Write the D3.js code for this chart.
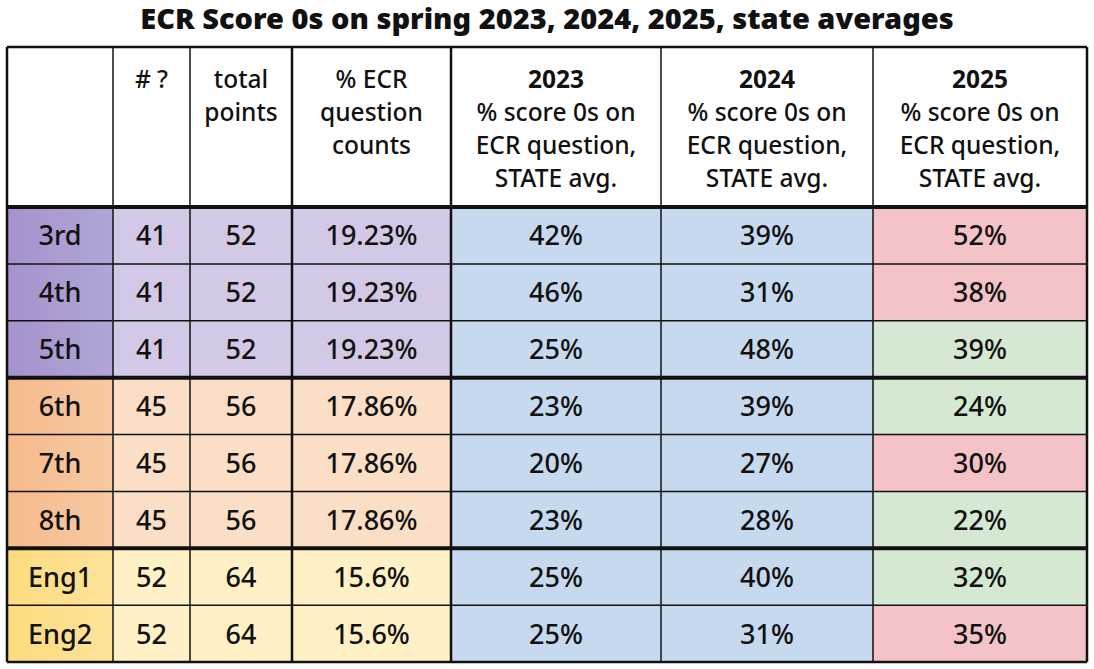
<!DOCTYPE html>
<html>
<head>
<meta charset="utf-8">
<script src="https://cdn.jsdelivr.net/npm/d3@7"></script>
<style>
  body { margin: 0; background: #fff; }
  text { font-family: "Noto Sans", Lato, sans-serif; fill: #111; }
</style>
</head>
<body>
<svg id="chart" width="1094" height="669"></svg>
<script>
var grades = ["3rd", "4th", "5th", "6th", "7th", "8th", "Eng1", "Eng2"];
var numQ = [41, 41, 41, 45, 45, 45, 52, 52];
var totalPoints = [52, 52, 52, 56, 56, 56, 64, 64];
var ecrPct = ["19.23%", "19.23%", "19.23%", "17.86%", "17.86%", "17.86%", "15.6%", "15.6%"];
var zeros2023 = [42, 46, 25, 23, 20, 23, 25, 25];
var zeros2024 = [39, 31, 48, 39, 27, 28, 40, 31];
var zeros2025 = [52, 38, 39, 24, 30, 22, 32, 35];
var groups = ["elem", "elem", "elem", "mid", "mid", "mid", "eng", "eng"];
var headers = [[""], ["# ?"], ["total", "points"], ["% ECR", "question", "counts"],
  ["2023", "% score 0s on", "ECR question,", "STATE avg."],
  ["2024", "% score 0s on", "ECR question,", "STATE avg."],
  ["2025", "% score 0s on", "ECR question,", "STATE avg."]];

var colEdges = [7, 113, 190, 292, 451, 661, 873, 1087];
var headTop = 47, headBottom = 207, tableBottom = 662;

var svg = d3.select("#chart");
var y = d3.scaleBand().domain(d3.range(grades.length)).range([headBottom, tableBottom]);

var darkCol = { elem: "#a493cd", mid: "#f5bb8c", eng: "#fddb7e" };
var darkCol2 = { elem: "#b3a5d6", mid: "#f7c9a2", eng: "#fee39a" };
var lightCol = { elem: "#d3c8e5", mid: "#fadec6", eng: "#fff0c6" };

// gradients for first column
var defs = svg.append("defs");
Object.keys(darkCol).forEach(function (g) {
  var lg = defs.append("linearGradient").attr("id", "grad_" + g).attr("x1", 0).attr("x2", 1);
  lg.append("stop").attr("offset", "0%").attr("stop-color", darkCol[g]);
  lg.append("stop").attr("offset", "100%").attr("stop-color", darkCol2[g]);
});

svg.append("text").attr("x", 547).attr("y", 29).attr("text-anchor", "middle")
  .style("font-size", "29px").style("font-weight", "900").text("ECR Score 0s on spring 2023, 2024, 2025, state averages");

var rows = grades.map(function (g, i) {
  return [g, numQ[i], totalPoints[i], ecrPct[i], zeros2023[i] + "%", zeros2024[i] + "%", zeros2025[i] + "%"];
});

function cellFill(i, c) {
  if (c == 0) return "url(#grad_" + groups[i] + ")";
  if (c <= 3) return lightCol[groups[i]];
  if (c <= 5) return "#c6d9ee";
  return zeros2025[i] > zeros2024[i] ? "#f3c3c8" : "#d5e8d2";
}

rows.forEach(function (row, i) {
  row.forEach(function (v, c) {
    svg.append("rect").attr("x", colEdges[c]).attr("y", y(i))
      .attr("width", colEdges[c + 1] - colEdges[c]).attr("height", y.bandwidth())
      .attr("fill", cellFill(i, c));
    svg.append("text").attr("x", (colEdges[c] + colEdges[c + 1]) / 2)
      .attr("y", y(i) + y.bandwidth() / 2 + 10).attr("text-anchor", "middle")
      .style("font-size", "27px").style("font-weight", "500").text(v);
  });
});

// header text
headers.forEach(function (lines, c) {
  lines.forEach(function (l, k) {
    svg.append("text").attr("x", (colEdges[c] + colEdges[c + 1]) / 2)
      .attr("y", headTop + 41 + k * 33).attr("text-anchor", "middle")
      .style("font-size", "24.5px").style("font-weight", c >= 4 && k == 0 ? "bold" : "500")
      .text(l);
  });
});

// grid lines
var grid = svg.append("g").attr("stroke", "#111");
colEdges.forEach(function (x, c) {
  grid.append("line").attr("x1", x).attr("x2", x).attr("y1", headTop).attr("y2", tableBottom)
    .attr("stroke-width", (c == 0 || c == colEdges.length - 1 || c == 3 || c == 4) ? 2.5 : 1.5);
});
var hLines = [headTop, headBottom].concat(d3.range(1, grades.length).map(function (i) { return y(i); })).concat([tableBottom]);
hLines.forEach(function (yy) {
  var thick = yy == headBottom || yy == y(3) || yy == y(6);
  grid.append("line").attr("x1", colEdges[0]).attr("x2", colEdges[colEdges.length - 1])
    .attr("y1", yy).attr("y2", yy).attr("stroke-width", thick ? 4 : (yy == headTop || yy == tableBottom ? 2.5 : 1.5));
});
</script>
</body>
</html>
